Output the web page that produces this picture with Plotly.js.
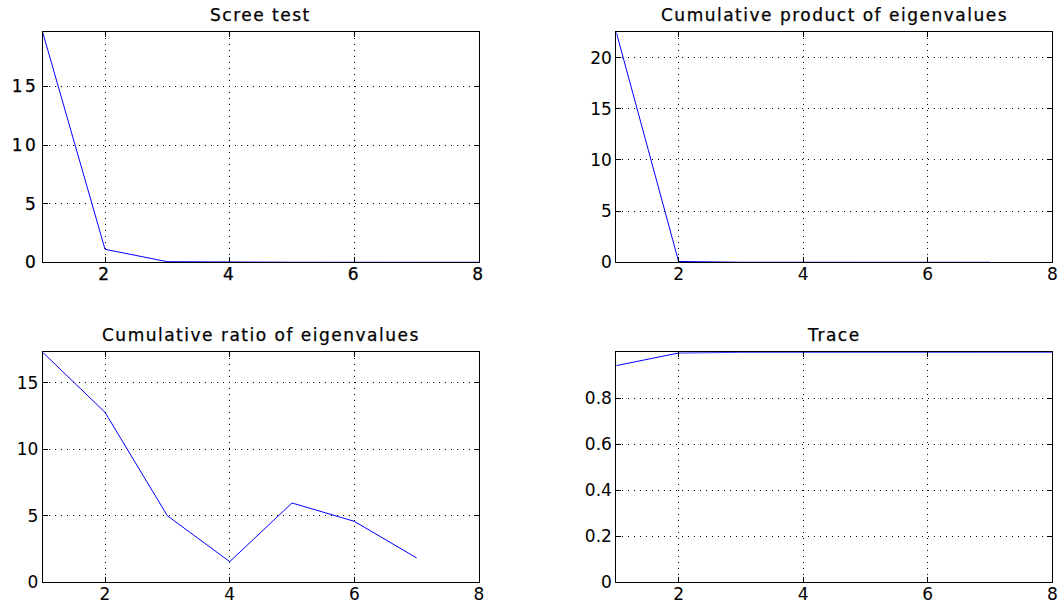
<!DOCTYPE html>
<html>
<head>
<meta charset="utf-8">
<script src="https://cdn.plot.ly/plotly-3.0.1.min.js"></script>
<style>
  html, body { margin: 0; padding: 0; background: #fff; }
  #chart { width: 1060px; height: 605px; }
  .xtick text, .ytick text { letter-spacing: 2.5px; stroke: #000; stroke-width: 0.25px; }
  .annotation-text { letter-spacing: 1.5px; stroke: #000; stroke-width: 0.25px; }
</style>
</head>
<body>
<div id="chart"></div>
<script>
// ---- data ----
const xScree = [1, 2, 3, 4, 5, 6, 7, 8];
const screeValues = [19.62, 1.11, 0.05, 0.01, 0.004, 0.002, 0.001, 0.0005];

const xProduct = [1, 2, 3, 4, 5, 6, 7];
const productValues = [22.48, 0.08, 0.004, 0.0001, 0, 0, 0];

const xRatio = [1, 2, 3, 4, 5, 6, 7];
const ratioValues = [17.28, 12.77, 5.0, 1.55, 5.96, 4.58, 1.83];

const xTrace = [1, 2, 3, 4, 5, 6, 7, 8];
const traceValues = [0.942, 0.997, 0.9998, 1.0, 1.0, 1.0, 1.0, 1.0];

const titles = ["Scree test", "Cumulative product of eigenvalues",
                "Cumulative ratio of eigenvalues", "Trace"];
const xTicks = [2, 4, 6, 8];
const yTicks1 = [0, 5, 10, 15];
const yTicks2 = [0, 5, 10, 15, 20];
const yTicks3 = [0, 5, 10, 15];
const yTicks4 = [0, 0.2, 0.4, 0.6, 0.8];

// ---- styling ----
const W = 1060, H = 605;
const colL = [42.7 / W, 479 / W];
const colR = [616.3 / W, 1052.3 / W];
const rowT = [1 - 262.3 / H, 1 - 32.3 / H];
const rowB = [1 - 582.3 / H, 1 - 352.3 / H];

const fam = "DejaVu Sans, Liberation Sans, Arial, sans-serif";
const tickFont = { family: fam, size: 17, color: "#000" };
const titleFont = { family: fam, size: 17, color: "#000" };
const lineStyle = { color: "#0000ff", width: 1 };

function axisBase(extra) {
  return Object.assign({
    showline: true, linecolor: "#000", linewidth: 1, mirror: "ticks",
    ticks: "inside", ticklen: 5, tickcolor: "#000", tickwidth: 1,
    showgrid: true, gridcolor: "#000", gridwidth: 1, griddash: "1px,5px",
    zeroline: false, tickfont: tickFont, fixedrange: true
  }, extra);
}

const data = [
  { x: xScree, y: screeValues, type: "scatter", mode: "lines", line: lineStyle, xaxis: "x", yaxis: "y" },
  { x: xProduct, y: productValues, type: "scatter", mode: "lines", line: lineStyle, xaxis: "x2", yaxis: "y2" },
  { x: xRatio, y: ratioValues, type: "scatter", mode: "lines", line: lineStyle, xaxis: "x3", yaxis: "y3" },
  { x: xTrace, y: traceValues, type: "scatter", mode: "lines", line: lineStyle, xaxis: "x4", yaxis: "y4" }
];

const domains = [[colL, rowT], [colR, rowT], [colL, rowB], [colR, rowB]];
const yRanges = [[0, 19.62], [0, 22.48], [0, 17.28], [0, 1]];
const yTickSets = [yTicks1, yTicks2, yTicks3, yTicks4];

const layout = {
  width: W, height: H,
  margin: { l: 0, r: 0, t: 0, b: 0 },
  paper_bgcolor: "#fff", plot_bgcolor: "#fff",
  showlegend: false,
  font: tickFont,
  annotations: []
};

for (let i = 0; i < 4; i++) {
  const s = i === 0 ? "" : String(i + 1);
  layout["xaxis" + s] = axisBase({
    domain: domains[i][0], range: [1, 8], tickvals: xTicks,
    anchor: "y" + s, ticklabelstandoff: -4
  });
  layout["yaxis" + s] = axisBase({
    domain: domains[i][1], range: yRanges[i], tickvals: yTickSets[i],
    anchor: "x" + s, ticklabelstandoff: 0
  });
  layout.annotations.push({
    text: titles[i], xref: "paper", yref: "paper",
    x: (domains[i][0][0] + domains[i][0][1]) / 2, y: domains[i][1][1],
    xanchor: "center", yanchor: "bottom", yshift: 5, showarrow: false,
    font: titleFont
  });
}

Plotly.newPlot("chart", data, layout, { staticPlot: true, displayModeBar: false });
</script>
</body>
</html>
